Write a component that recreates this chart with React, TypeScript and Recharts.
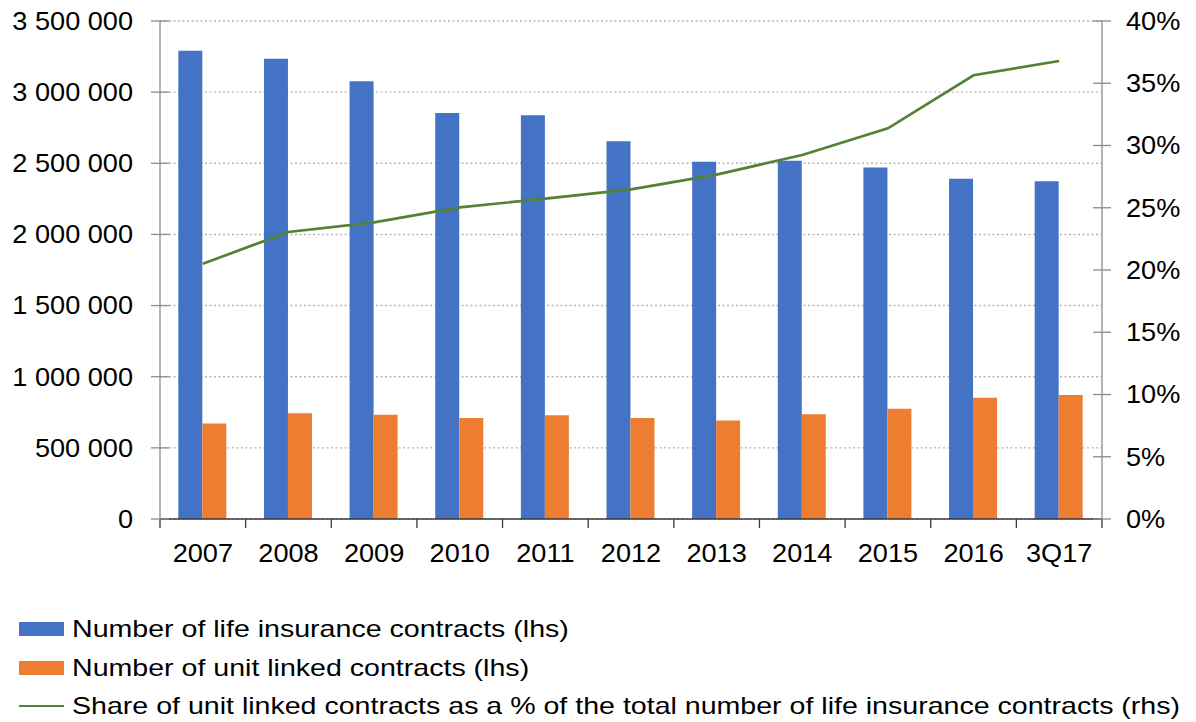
import {
  Bar,
  CartesianGrid,
  ComposedChart,
  Line,
  XAxis,
  YAxis,
} from 'recharts';

const BLUE = '#4472c4';
const ORANGE = '#ed7d31';
const GREEN = '#548235';
const AXIS_GRAY = '#8c8c8c';
const AXIS_DARK = '#3a3a3a';
const FONT = '"Liberation Sans", Arial, Helvetica, sans-serif';

// the source text is a bit wider than Arial at the same height
const AXIS_FONT = 25;
const AXIS_STRETCH = 1.085;
const LEGEND_FONT = 24;
const LEGEND_STRETCH = 1.19;

const TICK = 9;
const LEFT_GAP = 18;
const RIGHT_GAP = 15;
const X_GAP = 16;

const categories = ['2007', '2008', '2009', '2010', '2011', '2012', '2013', '2014', '2015', '2016', '3Q17'];
const lifeContracts = [3291000, 3235000, 3076000, 2853000, 2837000, 2654000, 2510000, 2518000, 2471000, 2391000, 2373000];
const unitLinked = [672000, 743000, 733000, 710000, 729000, 710000, 693000, 736000, 775000, 853000, 872000];
const unitLinkedShare = [0.205, 0.2305, 0.2383, 0.2503, 0.2573, 0.2648, 0.2766, 0.2924, 0.3138, 0.3564, 0.3679];

const leftTicks = [0, 500000, 1000000, 1500000, 2000000, 2500000, 3000000, 3500000];
const rightTicks = [0, 0.05, 0.1, 0.15, 0.2, 0.25, 0.3, 0.35, 0.4];

const legendItems = [
  { label: 'Number of life insurance contracts (lhs)', color: BLUE, kind: 'bar' },
  { label: 'Number of unit linked contracts (lhs)', color: ORANGE, kind: 'bar' },
  {
    label: 'Share of unit linked contracts as a % of the total number of life insurance contracts (rhs)',
    color: GREEN,
    kind: 'line',
  },
];

function formatSpaced(value: number): string {
  return String(Math.round(value)).replace(/\B(?=(\d{3})+(?!\d))/g, ' ');
}

function formatPct(value: number): string {
  return `${Math.round(value * 100)}%`;
}

function AxisText({ x, y, anchor, dy, children }: any) {
  return (
    <text
      transform={`translate(${x},${y}) scale(${AXIS_STRETCH},1)`}
      dy={dy}
      textAnchor={anchor}
      fill="#000"
      fontSize={AXIS_FONT}
      fontFamily={FONT}
    >
      {children}
    </text>
  );
}

function LeftTick(props: any) {
  const { x, y, payload } = props;
  const axisX = x + TICK + LEFT_GAP;
  return (
    <g>
      <line x1={axisX - TICK} x2={axisX + TICK} y1={y} y2={y} stroke={AXIS_GRAY} strokeWidth={1.3} />
      <AxisText x={x} y={y} anchor="end" dy="0.355em">
        {formatSpaced(payload.value)}
      </AxisText>
    </g>
  );
}

function RightTick(props: any) {
  const { x, y, payload } = props;
  const axisX = x - TICK - RIGHT_GAP;
  return (
    <g>
      <line x1={axisX - TICK} x2={axisX + TICK} y1={y} y2={y} stroke={AXIS_GRAY} strokeWidth={1.3} />
      <AxisText x={x} y={y} anchor="start" dy="0.355em">
        {formatPct(payload.value)}
      </AxisText>
    </g>
  );
}

function BottomTick(props: any) {
  const { x, y, payload, index, visibleTicksCount } = props;
  const axisY = y - TICK - X_GAP;
  const half = payload.offset ?? 0;
  const isLast = index === visibleTicksCount - 1;
  return (
    <g>
      <line x1={x - half} x2={x - half} y1={axisY} y2={axisY + TICK} stroke={AXIS_DARK} strokeWidth={1.3} />
      {isLast && (
        <line x1={x + half} x2={x + half} y1={axisY} y2={axisY + TICK} stroke={AXIS_DARK} strokeWidth={1.3} />
      )}
      <AxisText x={x} y={y} anchor="middle" dy="0.71em">
        {payload.value}
      </AxisText>
    </g>
  );
}

export default function App() {
  const data = categories.map((label, i) => ({
    label,
    life: lifeContracts[i],
    unit: unitLinked[i],
    share: unitLinkedShare[i],
  }));

  return (
    <div style={{ position: 'absolute', left: 0, top: 0, width: 1196, height: 722, background: '#fff' }}>
      <ComposedChart
        width={1196}
        height={722}
        data={data}
        margin={{ top: 21, right: 0, bottom: 162, left: 0 }}
        barCategoryGap="21.4%"
        barGap={0}
      >
        <CartesianGrid
          yAxisId="left"
          vertical={false}
          stroke="#b5b5b5"
          strokeDasharray="2 2.5"
          strokeWidth={1.4}
        />
        <XAxis
          dataKey="label"
          height={41}
          tickSize={TICK}
          tickMargin={X_GAP}
          tickLine={false}
          axisLine={{ stroke: AXIS_DARK, strokeWidth: 1.3 }}
          tick={<BottomTick />}
          interval={0}
        />
        <YAxis
          yAxisId="left"
          width={160}
          domain={[0, 3500000]}
          ticks={leftTicks}
          tickSize={TICK}
          tickMargin={LEFT_GAP}
          tickLine={false}
          axisLine={{ stroke: AXIS_GRAY, strokeWidth: 1.3 }}
          tick={<LeftTick />}
          interval={0}
        />
        <YAxis
          yAxisId="right"
          orientation="right"
          width={94}
          domain={[0, 0.4]}
          ticks={rightTicks}
          tickSize={TICK}
          tickMargin={RIGHT_GAP}
          tickLine={false}
          axisLine={{ stroke: AXIS_GRAY, strokeWidth: 1.3 }}
          tick={<RightTick />}
          interval={0}
        />
        <Bar yAxisId="left" dataKey="life" fill={BLUE} isAnimationActive={false} />
        <Bar yAxisId="left" dataKey="unit" fill={ORANGE} isAnimationActive={false} />
        <Line
          yAxisId="right"
          type="linear"
          dataKey="share"
          stroke={GREEN}
          strokeWidth={2.7}
          dot={false}
          activeDot={false}
          isAnimationActive={false}
        />
      </ComposedChart>

      <div
        style={{
          position: 'absolute',
          left: 19,
          top: 610,
          fontFamily: FONT,
          fontSize: LEGEND_FONT,
          color: '#000',
        }}
      >
        {legendItems.map((item) => (
          <div key={item.label} style={{ display: 'flex', alignItems: 'center', height: 38.5, whiteSpace: 'nowrap' }}>
            <span
              style={{
                display: 'inline-block',
                width: 45,
                height: item.kind === 'bar' ? 14 : 2,
                background: item.color,
                marginRight: 8,
              }}
            />
            <span
              style={{
                display: 'inline-block',
                transform: `scaleX(${LEGEND_STRETCH})`,
                transformOrigin: 'left center',
              }}
            >
              {item.label}
            </span>
          </div>
        ))}
      </div>
    </div>
  );
}
